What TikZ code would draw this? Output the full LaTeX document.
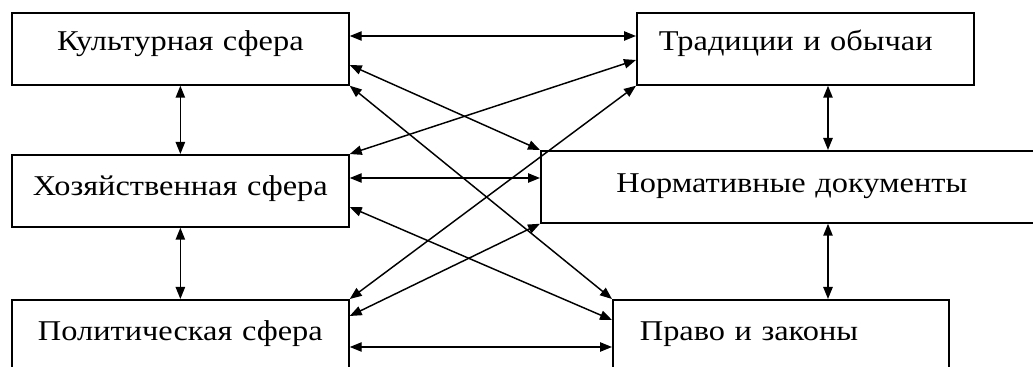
\documentclass[tikz,border=0pt]{standalone}
\usepackage{fontspec}
\setmainfont[FakeStretch=1.13]{Liberation Serif}
\usetikzlibrary{arrows.meta,calc}

\tikzset{
  box/.style={draw, line width=1.3pt, anchor=north west, inner ysep=0pt,
    text height=30.5pt, text depth=23.5pt, font=\fontsize{21.5}{24}\selectfont},
  link/.style={{Triangle[length=9pt,width=7pt]}-{Triangle[length=9pt,width=7pt]}, line width=1.1pt},
}

\begin{document}
\begin{tikzpicture}[x=0.75pt,y=-0.75pt]
	\useasboundingbox (0,0) rectangle (1033,367);
	
	% boxes
	\node[box, inner xsep=0pt, text width=252.75pt, align=center, text height=28.5pt, text depth=25.5pt] (kult) at (11,12) {Культурная сфера};
	\node[box, inner xsep=16.5pt, text width=219.75pt, align=left, text height=28.5pt, text depth=25.5pt] (trad) at (636,12) {Традиции и обычаи};
	\node[box, inner xsep=0pt, text width=252.75pt, align=center] (hoz) at (11,154) {Хозяйственная сфера};
	\node[box, inner xsep=0pt, text width=376.5pt, align=center, text height=31.5pt, text depth=22.5pt] (norm) at (540,150) {Нормативные документы};
	\node[box, inner xsep=0pt, text width=252.75pt, align=center] (polit) at (11,299) {Политическая сфера};
	\node[box, inner xsep=20.25pt, text width=211.5pt, align=left] (pravo) at (612,299) {Право и законы};
	
	% vertical links
	\draw[link] (kult.south) -- (hoz.north);
	\draw[link] (hoz.south) -- (polit.north);
	\draw[link] ($(trad.south west)+(192,0)$) -- ($(norm.north west)+(288,0)$);
	\draw[link] ($(norm.south west)+(288,0)$) -- ($(pravo.north west)+(216,0)$);
	
	% horizontal links
	\draw[link] ($(kult.north east)+(0,24)$) -- ($(trad.north west)+(0,24)$);
	\draw[link] ($(hoz.north east)+(0,24)$) -- ($(norm.north west)+(0,28)$);
	\draw[link] ($(polit.north east)+(0,48)$) -- ($(pravo.north west)+(0,48)$);
	
	% crossing links
	\draw[link] ($(kult.north east)+(0,53)$) -- (norm.north west);
	\draw[link] (kult.south east) -- (pravo.north west);
	\draw[link] (hoz.north east) -- ($(trad.north west)+(0,48)$);
	\draw[link] ($(hoz.north east)+(0,53)$) -- ($(pravo.north west)+(0,21)$);
	\draw[link] (polit.north east) -- (trad.south west);
	\draw[link] ($(polit.north east)+(0,17)$) -- (norm.south west);
\end{tikzpicture}
\end{document}
